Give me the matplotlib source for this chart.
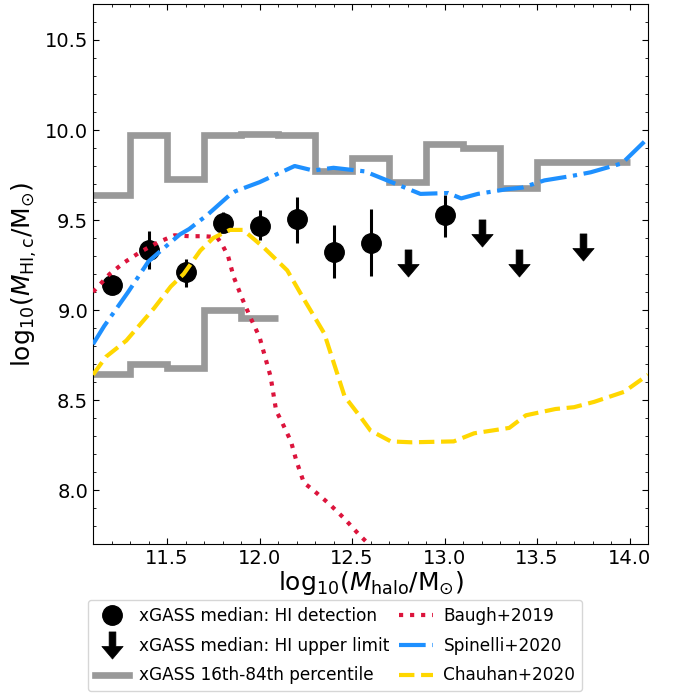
import numpy as np
import matplotlib
matplotlib.use("Agg")
import matplotlib.pyplot as plt
from matplotlib.path import Path

# ---------------- data ----------------
bin_edges = [11.1, 11.3, 11.5, 11.7, 11.9, 12.1, 12.3, 12.5, 12.7, 12.9, 13.1, 13.3, 13.5, 14.0]
p84 = [9.64, 9.972, 9.73, 9.972, 9.978, 9.972, 9.77, 9.845, 9.71, 9.92, 9.90, 9.68, 9.82]
p16_edges = [11.1, 11.3, 11.5, 11.7, 11.9, 12.1]
p16 = [8.645, 8.70, 8.68, 9.00, 8.955]

det_x = [11.2, 11.4, 11.6, 11.8, 12.0, 12.2, 12.4, 12.6, 13.0]
det_y = [9.14, 9.335, 9.21, 9.485, 9.465, 9.505, 9.325, 9.375, 9.525]
det_err_lo = [0.03, 0.105, 0.08, 0.04, 0.075, 0.135, 0.148, 0.185, 0.118]
det_err_hi = [0.03, 0.105, 0.075, 0.06, 0.09, 0.125, 0.148, 0.185, 0.115]

ul_x = [12.8, 13.2, 13.4, 13.75]
ul_y = [9.26, 9.43, 9.26, 9.35]

baugh_x = [11.10, 11.19, 11.27, 11.36, 11.45, 11.54, 11.62, 11.70, 11.77, 11.80, 11.83,
           11.86, 11.91, 11.95, 12.00, 12.03, 12.06, 12.09, 12.12, 12.17, 12.20, 12.22,
           12.24, 12.29, 12.38, 12.46, 12.54, 12.65, 12.75]
baugh_y = [9.10, 9.20, 9.265, 9.325, 9.375, 9.415, 9.41, 9.41, 9.405, 9.36, 9.30,
           9.185, 9.055, 8.96, 8.85, 8.74, 8.63, 8.44, 8.38, 8.27, 8.16, 8.10,
           8.04, 8.00, 7.92, 7.84, 7.75, 7.64, 7.55]

spin_x = [11.10, 11.16, 11.29, 11.40, 11.49, 11.57, 11.62, 11.72, 11.84, 11.87, 12.00,
          12.19, 12.29, 12.40, 12.57, 12.69, 12.87, 13.02, 13.09, 13.18, 13.33, 13.42,
          13.54, 13.69, 13.79, 13.96, 14.10]
spin_y = [8.81, 8.91, 9.10, 9.27, 9.35, 9.42, 9.45, 9.53, 9.64, 9.66, 9.71,
          9.80, 9.775, 9.79, 9.77, 9.72, 9.645, 9.65, 9.62, 9.645, 9.67, 9.68,
          9.72, 9.745, 9.765, 9.815, 9.955]

chau_x = [11.10, 11.17, 11.28, 11.43, 11.52, 11.59, 11.68, 11.75, 11.84, 11.91, 11.94,
          12.02, 12.15, 12.24, 12.35, 12.46, 12.55, 12.60, 12.71, 12.82, 13.05, 13.16,
          13.35, 13.44, 13.60, 13.70, 13.81, 13.97, 14.10]
chau_y = [8.64, 8.74, 8.83, 9.01, 9.13, 9.20, 9.33, 9.40, 9.445, 9.445, 9.42,
          9.35, 9.22, 9.06, 8.87, 8.52, 8.40, 8.33, 8.27, 8.265, 8.27, 8.315,
          8.345, 8.415, 8.45, 8.46, 8.49, 8.545, 8.64]

# ---------------- figure ----------------
fig = plt.figure(figsize=(6.76, 6.96), dpi=100)
ax = fig.add_axes([93/676, 1-544/696, 555/676, 540/696])

gray = '#999999'
ax.stairs(p84, bin_edges, baseline=None, color=gray, lw=4.8, zorder=1,
          label='xGASS 16th-84th percentile')
ax.stairs(p16, p16_edges, baseline=None, color=gray, lw=4.8, zorder=1)

ax.errorbar(det_x, det_y, yerr=[det_err_lo, det_err_hi], fmt='none',
            ecolor='k', elinewidth=2.2, capsize=0, zorder=2)
ax.plot(det_x, det_y, 'o', color='k', ms=14, zorder=2,
        label='xGASS median: HI detection')

arrow = Path([(-0.25, 1.0), (0.25, 1.0), (0.25, -0.07), (0.785, -0.07), (0.0, -1.0),
              (-0.785, -0.07), (-0.25, -0.07), (-0.25, 1.0)],
             [Path.MOVETO] + [Path.LINETO] * 6 + [Path.CLOSEPOLY])
ax.plot(ul_x, ul_y, linestyle='none', marker=arrow, color='k', ms=19.5, mew=0.5,
        zorder=2, label='xGASS median: HI upper limit')

ax.plot(baugh_x, baugh_y, ':', color='#DC143C', lw=3, zorder=3, label='Baugh+2019')
ax.plot(spin_x, spin_y, '-.', color='#1E90FF', lw=3, zorder=3, label='Spinelli+2020')
ax.plot(chau_x, chau_y, '--', color='#FFD700', lw=3, zorder=3, label='Chauhan+2020')

ax.set_xlim(11.1, 14.1)
ax.set_ylim(7.7, 10.7)
ax.set_xticks([11.5, 12.0, 12.5, 13.0, 13.5, 14.0])
ax.set_yticks([8.0, 8.5, 9.0, 9.5, 10.0, 10.5])
ax.xaxis.set_minor_locator(matplotlib.ticker.MultipleLocator(0.1))
ax.yaxis.set_minor_locator(matplotlib.ticker.MultipleLocator(0.1))
ax.tick_params(which='both', direction='in', top=True, right=True, labelsize=14)
ax.tick_params(which='major', length=4.5)
ax.tick_params(which='minor', length=2.4)

ax.set_xlabel(r'${\rm log}_{10}(M_{\rm halo}/{\rm M}_{\odot})$', fontsize=18, labelpad=1)
ax.set_ylabel(r'${\rm log}_{10}(M_{\rm HI,c}/{\rm M}_{\odot})$', fontsize=18, labelpad=4)

h, l = ax.get_legend_handles_labels()
order = ['xGASS median: HI detection', 'xGASS median: HI upper limit',
         'xGASS 16th-84th percentile', 'Baugh+2019', 'Spinelli+2020', 'Chauhan+2020']
hd = dict(zip(l, h))
ax.legend([hd[k] for k in order], order, ncol=2, fontsize=12.2,
          loc='upper left', bbox_to_anchor=(88/676, 1-600/696),
          bbox_transform=fig.transFigure, borderaxespad=0,
          handlelength=2, handletextpad=0.6, columnspacing=0.6, labelspacing=0.7)

fig.savefig('out.png', dpi=100)
